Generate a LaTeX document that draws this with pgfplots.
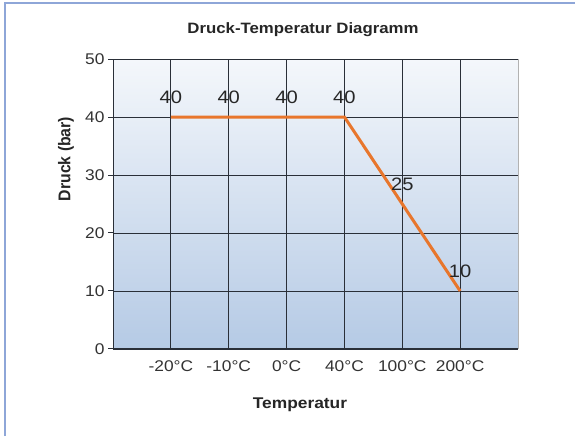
\documentclass[border=0pt]{standalone}
\usepackage{fontspec}
\setmainfont{Liberation Sans}[FakeStretch=1.12]
\newfontfamily\ylab{Liberation Sans}[FakeStretch=0.93]
\usepackage{pgfplots}
\pgfplotsset{compat=1.18}
\definecolor{lineorange}{HTML}{E8762C}
\definecolor{bordblue}{HTML}{8EA6D8}
\definecolor{bgtop}{HTML}{F4F7FB}
\definecolor{bgbot}{HTML}{B5CAE5}
\definecolor{gridc}{HTML}{2A2F38}
\begin{document}
\begin{tikzpicture}[x=1pt,y=1pt]
\useasboundingbox (0,0) rectangle (575,436);
\fill[white] (0,0) rectangle (575,436);
\draw[bordblue, line width=1.5pt] (5,0) -- (5,433) -- (575,433);
\begin{axis}[
  at={(113pt,87pt)}, anchor=south west,
  width=405pt, height=290pt, scale only axis,
  xmin=-1, xmax=6, ymin=0, ymax=50,
  xtick={0,...,5},
  xticklabels={-20°C,-10°C,0°C,40°C,100°C,200°C},
  ytick={0,10,...,50},
  axis x line*=bottom, axis y line*=left,
  axis line style={-, gridc, line width=1pt},
  grid=major,
  major grid style={gridc, line width=0.9pt},
  axis background/.style={top color=bgtop, bottom color=bgbot},
  tick align=outside, major tick length=5pt,
  xtick style={draw=none},
  ytick style={gridc, line width=1pt},
  tick label style={font=\fontsize{15.5}{17}\selectfont, text=black!80},
  /pgf/number format/assume math mode=true,
  xticklabel style={yshift=-3pt},
  yticklabel style={xshift=0pt},
  clip=false,
]
\addplot[lineorange, line width=3pt, mark=none,
  nodes near coords,
  every node near coord/.append style={font=\fontsize{18}{20}\selectfont, text=black!85, anchor=south, inner sep=0pt, yshift=12pt}]
  coordinates {(0,40) (1,40) (2,40) (3,40) (4,25) (5,10)};
\draw[gray!60, line width=0.8pt] (axis cs:6,0) -- (axis cs:6,50);
\end{axis}
\node[font=\bfseries\fontsize{15}{17}\selectfont, text=black!85] at (303,406) {Druck-Temperatur Diagramm};
\node[font=\ylab\bfseries\fontsize{17}{19}\selectfont, text=black!85, rotate=90] at (66,277) {Druck (bar)};
\node[font=\bfseries\fontsize{15.5}{17}\selectfont, text=black!85] at (300,31) {Temperatur};
\end{tikzpicture}
\end{document}
